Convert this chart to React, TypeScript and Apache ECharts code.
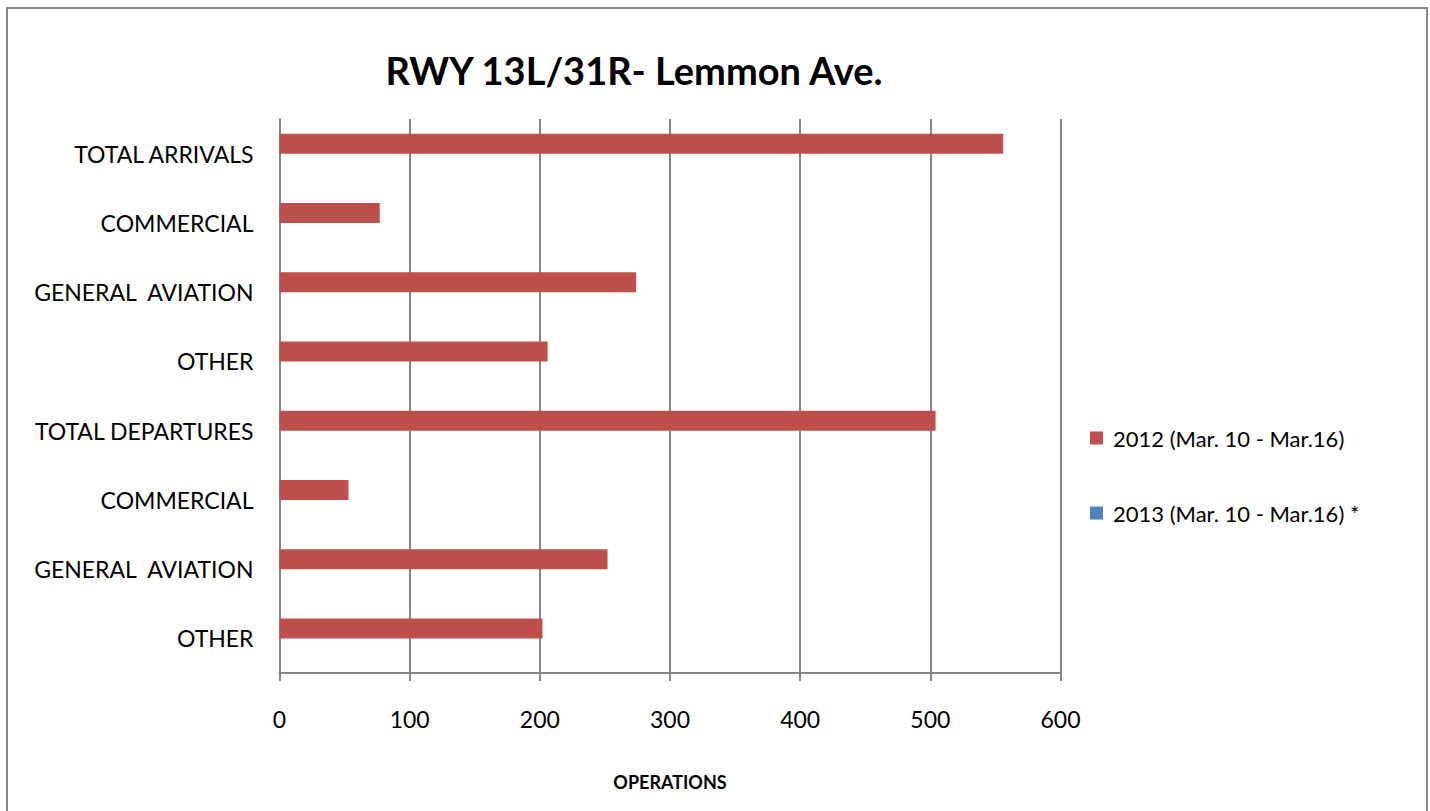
import React, { useEffect, useRef } from "react";
import * as echarts from "echarts";

const categories = [
  "TOTAL ARRIVALS",
  "COMMERCIAL",
  "GENERAL  AVIATION",
  "OTHER",
  "TOTAL DEPARTURES",
  "COMMERCIAL",
  "GENERAL  AVIATION",
  "OTHER",
];
const values2012 = [556, 77, 274, 206, 504, 53, 252, 202];
const values2013: (number | null)[] = [null, null, null, null, null, null, null, null];
const seriesNames = ["2012 (Mar. 10 - Mar.16)", "2013 (Mar. 10 - Mar.16) *"];
const titleText = "RWY 13L/31R- Lemmon Ave.";
const xAxisName = "OPERATIONS";

const FONT = "Lato, 'Open Sans', sans-serif";
const GRID_COLOR = "#868686";

export default function App() {
  const ref = useRef<HTMLDivElement>(null);
  useEffect(() => {
    if (!ref.current) return;
    const chart = echarts.init(ref.current, undefined, { renderer: "svg" });
    chart.setOption({
      animation: false,
      backgroundColor: "#ffffff",
      textStyle: { fontFamily: FONT },
      graphic: [
        {
          type: "rect",
          shape: { x: 7, y: 8, width: 1420, height: 830 },
          style: { fill: "none", stroke: GRID_COLOR, lineWidth: 2 },
          silent: true,
        },
        {
          type: "text",
          x: 634,
          y: 70,
          style: {
            text: titleText,
            font: `bold 38px ${FONT}`,
            fill: "#000",
            textAlign: "center",
            textVerticalAlign: "middle",
          },
        },
      ],
      legend: {
        orient: "vertical",
        left: 1085,
        top: 422,
        itemWidth: 13,
        itemHeight: 13,
        itemGap: 53,
        icon: "rect",
        textStyle: {
          fontFamily: FONT,
          fontSize: 22,
          color: "#000",
          lineHeight: 22,
          padding: [0, 0, 0, 5],
        },
        data: seriesNames,
      },
      grid: { left: 279.5, right: 369.5, top: 119, bottom: 138, containLabel: false },
      xAxis: {
        type: "value",
        min: 0,
        max: 600,
        interval: 100,
        name: xAxisName,
        nameLocation: "middle",
        nameGap: 100,
        nameTextStyle: { fontFamily: FONT, fontWeight: "bold", fontSize: 18, color: "#000" },
        axisLine: { show: true, lineStyle: { color: GRID_COLOR, width: 2 } },
        axisTick: { show: true, length: 8, lineStyle: { color: GRID_COLOR, width: 2 } },
        axisLabel: { margin: 34, fontFamily: FONT, fontSize: 23, color: "#000" },
        splitLine: { show: true, lineStyle: { color: GRID_COLOR, width: 2 } },
      },
      yAxis: {
        type: "category",
        inverse: true,
        data: categories,
        axisLine: { show: true, lineStyle: { color: GRID_COLOR, width: 2 } },
        axisTick: { show: false },
        axisLabel: { margin: 26, fontFamily: FONT, fontSize: 23, color: "#000" },
        splitLine: { show: false },
      },
      series: [
        {
          name: seriesNames[0],
          type: "bar",
          data: values2012,
          barWidth: 20,
          barGap: "0%",
          itemStyle: { color: "#BD504D" },
        },
        {
          name: seriesNames[1],
          type: "bar",
          data: values2013,
          barWidth: 20,
          barGap: "0%",
          itemStyle: { color: "#4F81BD" },
        },
      ],
    });
    return () => chart.dispose();
  }, []);
  return (
    <div
      ref={ref}
      style={{ position: "absolute", left: 0, top: 0, width: 1430, height: 811 }}
    />
  );
}
